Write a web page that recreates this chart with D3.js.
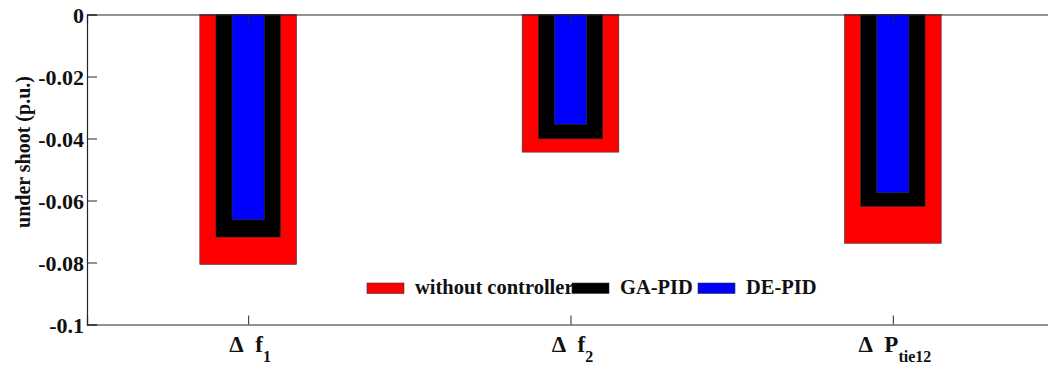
<!DOCTYPE html>
<html>
<head>
<meta charset="utf-8">
<script src="https://cdn.jsdelivr.net/npm/d3@7"></script>
<style>
  body { margin: 0; background: #fff; }
  svg text { font-family: "Liberation Serif", "Times New Roman", Times, serif !important; font-weight: bold; fill: #111; }
</style>
</head>
<body>
<svg id="chart" width="1048" height="367"></svg>
<script>
// data
const categories = [1, 2, 3];
const catMain = ["f", "f", "P"];
const catSub = ["1", "2", "tie12"];
const seriesNames = ["without controller", "GA-PID", "DE-PID"];
const seriesColors = ["#ff0000", "#000000", "#0000ff"];
const barWidths = [0.3, 0.2, 0.1];
const withoutController = [-0.0806, -0.0444, -0.0738];
const gaPid = [-0.0718, -0.0401, -0.0619];
const dePid = [-0.0662, -0.0354, -0.0575];
const yTicks = [0, -0.02, -0.04, -0.06, -0.08, -0.1];
const yTickLabels = ["0", "-0.02", "-0.04", "-0.06", "-0.08", "-0.1"];

const series = [withoutController, gaPid, dePid];
const serif = '"Liberation Serif", "Times New Roman", serif';

const svg = d3.select("#chart");
const x = d3.scaleLinear().domain([0.5, 3.5]).range([87, 1054]);
const y = d3.scaleLinear().domain([-0.1, 0]).range([324.5, 14.5]);

// bars, widest first so narrower ones sit on top
series.forEach((vals, s) => {
  svg.append("g").selectAll("rect")
    .data(vals)
    .join("rect")
    .attr("x", (d, i) => x(categories[i] - barWidths[s] / 2))
    .attr("width", x(barWidths[s]) - x(0))
    .attr("y", y(0))
    .attr("height", d => y(d) - y(0))
    .attr("fill", seriesColors[s])
    .attr("stroke", "#333")
    .attr("stroke-width", 0.6);
});

// axes
const axisColor = "#262626";
const yAxis = svg.append("g")
  .attr("transform", `translate(${x(0.5)},0)`)
  .call(d3.axisLeft(y).tickValues(yTicks).tickSize(-10).tickPadding(3)
    .tickFormat((d, i) => yTickLabels[i]));
yAxis.attr("font-family", serif);
yAxis.selectAll("text").style("font-size", "22px").attr("dy", "0.36em");

const xAxis = svg.append("g")
  .attr("transform", `translate(0,${y(-0.1)})`)
  .call(d3.axisBottom(x).tickValues(categories).tickSize(-9).tickFormat(""));
const xTop = svg.append("g")
  .attr("transform", `translate(0,${y(0)})`)
  .call(d3.axisTop(x).tickValues(categories).tickSize(-9).tickFormat(""));

[yAxis, xAxis, xTop].forEach(g => {
  g.select(".domain").attr("stroke", axisColor).attr("stroke-width", 1.2);
  g.selectAll(".tick line").attr("stroke", axisColor).attr("stroke-width", 1);
});

// category labels with subscripts
const lab = svg.append("g").selectAll("text")
  .data(categories)
  .join("text")
  .attr("x", d => x(d) + 2)
  .attr("y", 352)
  .attr("text-anchor", "middle")
  .style("font-size", "23px");
lab.append("tspan").text((d, i) => "Δ\u00a0\u00a0" + catMain[i]);
lab.append("tspan")
  .attr("dy", 10)
  .style("font-size", "16px")
  .text((d, i) => catSub[i]);

// y axis title
svg.append("text")
  .attr("transform", "translate(30,152) rotate(-90)")
  .attr("text-anchor", "middle")
  .style("font-size", "20px")
  .text("under shoot (p.u.)");

// legend
const legendX = [367, 572, 698];
const leg = svg.append("g").selectAll("g")
  .data(seriesNames)
  .join("g")
  .attr("transform", (d, i) => `translate(${legendX[i]},283)`);
leg.append("text")
  .attr("x", 48)
  .attr("y", 11)
  .style("font-size", "20.5px")
  .text(d => d);
leg.append("rect")
  .attr("width", 37)
  .attr("height", 10.5)
  .attr("fill", (d, i) => seriesColors[i])
  .attr("stroke", "#333")
  .attr("stroke-width", 0.6);
</script>
</body>
</html>
